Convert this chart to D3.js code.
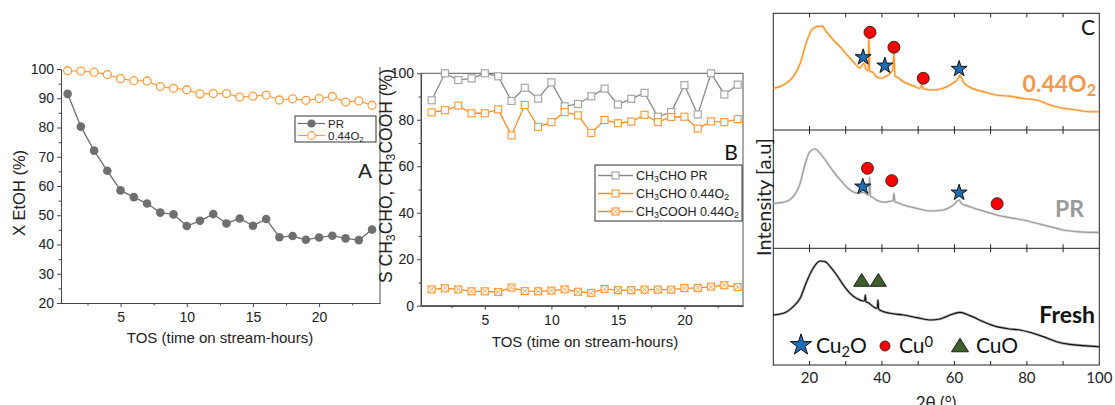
<!DOCTYPE html>
<html><head><meta charset="utf-8">
<script src="https://cdn.jsdelivr.net/npm/d3@7"></script>
<style>
body{margin:0;background:#fff;}
svg{display:block;}
</style></head><body>
<svg id="fig" width="1115" height="405"></svg>
<script>
// ---------- data ----------
const tos = [1,2,3,4,5,6,7,8,9,10,11,12,13,14,15,16,17,18,19,20,21,22,23,24];

// Panel A: ethanol conversion (%)
const convPR  = [91.5,80.3,72.1,65.2,58.5,56.2,54.0,50.9,50.3,46.3,48.1,50.4,47.2,48.9,46.4,48.7,42.5,42.9,41.6,42.4,43.0,42.1,41.5,45.1];
const convO2  = [99.4,99.3,98.9,98.1,96.7,96.0,95.9,94.0,93.4,92.9,91.5,91.6,91.6,90.4,90.7,91.1,89.4,89.8,89.3,89.9,90.6,88.7,89.1,87.6];

// Panel B: selectivities (%)
const selAcePR  = [88.4,100,97.1,97.8,100,98.7,88.1,93.8,89.1,96.1,85.8,86.8,90.1,93.4,86.6,89.0,91.6,81.3,83.3,94.9,82.3,100,90.9,95.1];
const selAceO2  = [83.2,84.1,86.1,82.8,82.8,84.5,73.3,86.4,76.9,79.0,83.3,81.9,74.3,79.9,78.5,79.2,82.1,79.0,81.2,81.3,76.2,79.3,79.0,80.3];
const selAcidO2 = [7.0,7.5,7.0,6.2,6.2,5.9,7.8,6.3,6.2,6.5,7.0,6.0,5.5,7.2,6.7,6.7,6.9,6.9,6.9,7.6,7.6,8.2,8.8,8.0];

const ticksA = [20,30,40,50,60,70,80,90,100];
const ticksB = [0,20,40,60,80,100];
const ticksTOS = [5,10,15,20];

// Panel C: XRD patterns, [2θ, intensity a.u.]
const xrdO2 = [[10,35.7],[12.8,38.6],[15.5,45.7],[17.4,57],[19.2,75.7],[20.6,85.7],[22.0,88.6],[23.4,89],[24.7,84],
  [26.6,77],[28.4,71.4],[30.7,63],[32.5,57],[33.9,53],[34.6,56],[35.1,57],[35.6,52],[36.2,51],[36.4,81],[36.6,50],
  [37.1,50],[38.5,45.7],[39.9,44.3],[40.8,45.7],[41.7,47],[42.6,50],[43.0,52],[43.3,66],[43.6,46],[44.0,45.7],
  [45.9,41.4],[48.7,37.7],[50.5,35.7],[51.0,38.6],[51.4,35.4],[54.2,34.3],[56.9,35.7],[59.2,39.4],[61.1,44.3],
  [61.5,47],[62.4,41.4],[64.3,36.6],[68.0,32.9],[71.6,30],[75.3,29],[79.0,27],[82.7,25.7],[86.4,21.4],[90.0,18.6],
  [93.7,17.1],[97.4,15.7],[100,15.7]];
const xrdPR = [[10,38],[12.8,38.9],[15.5,43.7],[17.4,54.9],[18.7,70.4],[20.1,81.7],[21.5,83.9],[22.9,80.3],[24.7,73.2],
  [26.6,64.8],[28.9,56.3],[31.2,49.3],[33.5,46.5],[34.8,47.5],[36.2,45],[36.4,45],[36.6,60],[36.8,44],[37.1,43.7],
  [38.5,40.8],[40.8,38.9],[42.7,40],[43.1,40],[43.3,46.5],[43.6,39],[43.9,38.9],[45.9,36.6],[49.6,33.8],[53.2,31.5],
  [56.9,32.4],[59.7,36.6],[61.3,40.8],[61.9,38],[64.3,35.2],[68.0,31.5],[71.6,28.2],[75.3,25.9],[79.0,23.9],
  [82.7,21.1],[86.4,18.3],[90.0,15.5],[93.7,14.1],[97.4,13.5],[100,13.5]];
const xrdFresh = [[10,42.9],[12.8,44.3],[15.5,50],[17.4,57.1],[19.2,71.4],[21.0,82.9],[22.9,89.1],[24.3,88.6],
  [25.7,84.3],[27.5,77.1],[29.3,68.6],[31.2,61.4],[33.0,57.1],[34.8,54.9],[35.2,55],[35.4,60],[35.6,54],[36.0,53.7],
  [37.6,50],[38.5,48.6],[38.7,49],[38.9,55.7],[39.1,48],[39.4,47.1],[42.2,44.3],[45.9,42.9],[49.6,40.6],[53.2,38.6],
  [56.0,39.4],[58.8,42.9],[61.5,45.1],[64.3,42.3],[68.0,37.1],[71.6,32.9],[75.3,30.9],[78.1,30],[80.8,28],[84.5,24.3],
  [88.2,20],[91.9,17.7],[95.6,16.6],[100,15.7]];

// phase markers [2θ, intensity]
const cuO2Cu2O = [[34.8,62.3],[40.8,55.1],[61.3,52.3]];
const cuO2Cu0  = [[36.7,83.7],[43.3,70.9],[51.4,44.3]];
const cuPRCu2O = [[34.7,52.1],[61.3,47.0]];
const cuPRCu0  = [[36.0,67.6],[42.7,57.2],[71.8,37.7]];
const cuFreshCuO = [[34.4,72.9],[39.0,72.9]];
const ticks2Theta = [20,40,60,80,100];

// ---------- drawing ----------
const svg = d3.select("#fig");
const ARIAL = "'Liberation Sans', Arial, sans-serif";
const CAL = "Lato, 'Open Sans', sans-serif";
const GREY = "#6f6f6f", ORANGE = "#ff9d3c", LGREY = "#a6a6a6";

function styleAxis(g, size){
  g.attr("font-family", ARIAL).attr("font-size", size);
  g.selectAll("path,line").attr("stroke","#444");
  g.selectAll("text").attr("fill","#222");
}

function sub(textSel, parts){
  // parts: array of [string, isSub]
  parts.forEach(([s, isSub]) => {
    textSel.append("tspan").text(s)
      .attr("baseline-shift", isSub ? "-25%" : null)
      .attr("font-size", isSub ? "70%" : null);
  });
}

// ===== Panel A =====
const xA = d3.scaleLinear().domain([0.5, 24.6]).range([61, 380]);
const yA = d3.scaleLinear().domain([20, 100]).range([303, 69]);
const gA = svg.append("g");

gA.append("g").attr("transform","translate(0,303)")
  .call(d3.axisBottom(xA).tickValues([2.5,7.5,12.5,17.5,22.5]).tickSize(2.5).tickSizeOuter(0).tickFormat(""))
  .call(g=>styleAxis(g,14));
gA.append("g").attr("transform","translate(0,303)")
  .call(d3.axisBottom(xA).tickValues(ticksTOS).tickSize(4).tickSizeOuter(0).tickPadding(5))
  .call(g=>styleAxis(g,14));
gA.append("g").attr("transform","translate(61,0)")
  .call(d3.axisLeft(yA).tickValues([25,35,45,55,65,75,85,95]).tickSize(2.5).tickSizeOuter(0).tickFormat(""))
  .call(g=>styleAxis(g,14));
gA.append("g").attr("transform","translate(61,0)")
  .call(d3.axisLeft(yA).tickValues(ticksA).tickSize(4).tickSizeOuter(0).tickPadding(3))
  .call(g=>styleAxis(g,14));
gA.append("line").attr("x1",380).attr("x2",380).attr("y1",yA(100)-2).attr("y2",303).attr("stroke","#555");

gA.append("text").attr("x",220).attr("y",343).attr("text-anchor","middle")
  .attr("font-family",ARIAL).attr("font-size",15).attr("fill","#222").text("TOS (time on stream-hours)");
gA.append("text").attr("transform","translate(25,193) rotate(-90)").attr("text-anchor","middle")
  .attr("font-family",ARIAL).attr("font-size",16.5).attr("fill","#222").text("X EtOH (%)");
gA.append("text").attr("x",365).attr("y",178).attr("text-anchor","middle")
  .attr("font-family",ARIAL).attr("font-size",21).attr("fill","#222").text("A");

const lineA = v => d3.line().x((d,i)=>xA(tos[i])).y(d=>yA(d))(v);
gA.append("path").attr("d",lineA(convPR)).attr("fill","none").attr("stroke",GREY).attr("stroke-width",1.3);
gA.selectAll(".pPR").data(convPR).enter().append("circle")
  .attr("cx",(d,i)=>xA(tos[i])).attr("cy",d=>yA(d)).attr("r",4.3).attr("fill",GREY);
gA.append("path").attr("d",lineA(convO2)).attr("fill","none").attr("stroke",ORANGE).attr("stroke-width",1.2);
gA.selectAll(".pO2").data(convO2).enter().append("circle")
  .attr("cx",(d,i)=>xA(tos[i])).attr("cy",d=>yA(d)).attr("r",4).attr("fill","#fff").attr("stroke",ORANGE).attr("stroke-width",1.3);

// legend A
const lgA = gA.append("g");
lgA.append("rect").attr("x",295).attr("y",116).attr("width",81).attr("height",26).attr("fill","#fff").attr("stroke","#333");
[["PR",123.5],["0.44O2",135.5]].forEach(([lab,y],k)=>{
  const c = k===0?GREY:ORANGE;
  lgA.append("line").attr("x1",298).attr("x2",325).attr("y1",y).attr("y2",y).attr("stroke",c).attr("stroke-width",1.2);
  lgA.append("circle").attr("cx",311.5).attr("cy",y).attr("r",k===0?4:3.8)
    .attr("fill",k===0?GREY:"#fff").attr("stroke",k===0?"none":ORANGE).attr("stroke-width",1.2);
  const t = lgA.append("text").attr("x",328).attr("y",y+4).attr("font-family",ARIAL).attr("font-size",11.5).attr("fill","#222");
  if(k===0) t.text(lab); else sub(t,[["0.44O",false],["2",true]]);
});

// ===== Panel B =====
const xB = d3.scaleLinear().domain([0.2, 24.4]).range([421, 743]);
const yB = d3.scaleLinear().domain([0, 100]).range([305.7, 73.3]);
const gB = svg.append("g");
gB.append("g").attr("transform","translate(0,305.7)")
  .call(d3.axisBottom(xB).tickValues([2.5,7.5,12.5,17.5,22.5]).tickSize(2.5).tickSizeOuter(0).tickFormat(""))
  .call(g=>styleAxis(g,14));
gB.append("g").attr("transform","translate(0,305.7)")
  .call(d3.axisBottom(xB).tickValues(ticksTOS).tickSize(4).tickSizeOuter(0).tickPadding(5))
  .call(g=>styleAxis(g,14));
gB.append("g").attr("transform","translate(421,0)")
  .call(d3.axisLeft(yB).tickValues([10,30,50,70,90]).tickSize(2.5).tickSizeOuter(0).tickFormat(""))
  .call(g=>styleAxis(g,14));
gB.append("g").attr("transform","translate(421,0)")
  .call(d3.axisLeft(yB).tickValues(ticksB).tickSize(4).tickSizeOuter(0).tickPadding(3))
  .call(g=>styleAxis(g,14));
gB.append("rect").attr("x",421).attr("y",73.3).attr("width",322).attr("height",232.4).attr("fill","none").attr("stroke","#555");

gB.append("text").attr("x",585).attr("y",347).attr("text-anchor","middle")
  .attr("font-family",ARIAL).attr("font-size",15).attr("fill","#222").text("TOS (time on stream-hours)");
{
  const t = gB.append("text").attr("transform","translate(392,176) rotate(-90)").attr("text-anchor","middle")
    .attr("font-family",ARIAL).attr("font-size",17.5).attr("fill","#222");
  sub(t,[["S CH",false],["3",true],["CHO, CH",false],["3",true],["COOH (%)",false]]);
}
gB.append("text").attr("x",731).attr("y",160).attr("text-anchor","middle")
  .attr("font-family",CAL).attr("font-size",21).attr("fill","#111").text("B");

function square(g, x, y, color, cross){
  const s = 7;
  g.append("rect").attr("x",x-s/2).attr("y",y-s/2).attr("width",s).attr("height",s)
    .attr("fill","#fff").attr("stroke",color).attr("stroke-width",1.2);
  if(cross){
    g.append("path").attr("d",`M${x-s/2},${y-s/2}L${x+s/2},${y+s/2}M${x+s/2},${y-s/2}L${x-s/2},${y+s/2}`)
      .attr("stroke",color).attr("stroke-width",0.9);
  }
}
const seriesB = [[selAcePR,LGREY,"#8a8a8a",false],[selAceO2,ORANGE,"#ff8c1f",false],[selAcidO2,ORANGE,"#ff8c1f",true]];
seriesB.forEach(([vals,mc,lc,cross])=>{
  gB.append("path").attr("d",d3.line().x((d,i)=>xB(tos[i])).y(d=>yB(d))(vals))
    .attr("fill","none").attr("stroke",lc).attr("stroke-width",1.3);
  vals.forEach((d,i)=>square(gB, xB(tos[i]), yB(d), mc, cross));
});

// legend B
const lgB = gB.append("g");
lgB.append("rect").attr("x",595).attr("y",165).attr("width",147).attr("height",56).attr("fill","#fff").attr("stroke","#333");
const legB = [
  [[["CH",false],["3",true],["CHO PR",false]], LGREY, "#8a8a8a", false, 175.5],
  [[["CH",false],["3",true],["CHO 0.44O",false],["2",true]], ORANGE, "#ff8c1f", false, 193.5],
  [[["CH",false],["3",true],["COOH 0.44O",false],["2",true]], ORANGE, "#ff8c1f", true, 211.5]
];
legB.forEach(([parts,mc,lc,cross,y])=>{
  lgB.append("line").attr("x1",598).attr("x2",633).attr("y1",y).attr("y2",y).attr("stroke",lc).attr("stroke-width",1.3);
  square(lgB, 615.5, y, mc, cross);
  const t = lgB.append("text").attr("x",636).attr("y",y+4.5).attr("font-family",ARIAL).attr("font-size",12.5).attr("fill","#222");
  sub(t, parts);
});

// ===== Panel C =====
const xC = d3.scaleLinear().domain([10, 100]).range([773.3, 1099.3]);
const bands = [[13.3,130],[130,248.3],[248.3,365]];
const yC = bands.map(([t,b]) => d3.scaleLinear().domain([0,100]).range([b,t]));
const gC = svg.append("g");

// inward ticks on every horizontal border
const tickAt = [20,30,40,50,60,70,80,90];
[13.3,130,248.3,365].forEach((yy,k)=>{
  tickAt.forEach(v=>{
    if(k>0) gC.append("line").attr("x1",xC(v)).attr("x2",xC(v)).attr("y1",yy).attr("y2",yy-4).attr("stroke","#222");
    if(k<3) gC.append("line").attr("x1",xC(v)).attr("x2",xC(v)).attr("y1",yy).attr("y2",yy+4).attr("stroke","#222");
  });
});
gC.append("rect").attr("x",773.3).attr("y",13.3).attr("width",326).attr("height",351.7).attr("fill","none").attr("stroke","#222");
gC.append("line").attr("x1",773.3).attr("x2",1099.3).attr("y1",130).attr("y2",130).attr("stroke","#222");
gC.append("line").attr("x1",773.3).attr("x2",1099.3).attr("y1",248.3).attr("y2",248.3).attr("stroke","#222");

gC.selectAll(".xl").data(ticks2Theta).enter().append("text")
  .attr("x",d=>xC(d)).attr("y",383).attr("text-anchor","middle")
  .attr("font-family",CAL).attr("font-size",15).attr("fill","#222").text(d=>d);
gC.append("text").attr("x",936).attr("y",409).attr("text-anchor","middle")
  .attr("font-family",CAL).attr("font-size",17).attr("fill","#222").text("2θ (°)");
gC.append("text").attr("transform","translate(771,197) rotate(-90)").attr("text-anchor","middle")
  .attr("font-family",CAL).attr("font-size",20).attr("fill","#222").text("Intensity [a.u]");

// each diffractogram: a faint wide stroke under a thin core line
const patterns = [[xrdO2,"#ff8f1a",0],[xrdPR,"#9a9a9a",1],[xrdFresh,"#111",2]];
patterns.forEach(([data,col,k])=>{
  const d = d3.line().curve(d3.curveMonotoneX).x(p=>xC(p[0])).y(p=>yC[k](p[1]))(data);
  gC.append("path").attr("d",d).attr("fill","none").attr("stroke",col).attr("stroke-width",2.6).attr("stroke-opacity",0.35);
  gC.append("path").attr("d",d).attr("fill","none").attr("stroke",col).attr("stroke-width",1.1);
});

const starPath = s => d3.symbol().type(d3.symbolStar).size(s)();
function star(x,y,s){ gC.append("path").attr("d",starPath(s)).attr("transform",`translate(${x},${y})`)
  .attr("fill","#1f6db4").attr("stroke","#111").attr("stroke-width",1); }
function dot(x,y,r){ gC.append("circle").attr("cx",x).attr("cy",y).attr("r",r)
  .attr("fill","#ff0000").attr("stroke","#222").attr("stroke-width",0.9); }
function tri(x,y,w){ const h=w*0.8; gC.append("path").attr("d",`M${x-w/2},${y+h/2}L${x},${y-h/2}L${x+w/2},${y+h/2}Z`)
  .attr("fill","#3f5f2a").attr("stroke","#111").attr("stroke-width",0.9); }

cuO2Cu2O.forEach(d=>star(xC(d[0]),yC[0](d[1]),80));
cuO2Cu0.forEach(d=>dot(xC(d[0]),yC[0](d[1]),6));
cuPRCu2O.forEach(d=>star(xC(d[0]),yC[1](d[1]),80));
cuPRCu0.forEach(d=>dot(xC(d[0]),yC[1](d[1]),6));
cuFreshCuO.forEach(d=>tri(xC(d[0]),yC[2](d[1]),16));

gC.append("text").attr("x",1095).attr("y",35).attr("text-anchor","end")
  .attr("font-family",CAL).attr("font-size",21).attr("fill","#111").text("C");
{
  const t = gC.append("text").attr("x",1096).attr("y",92).attr("text-anchor","end")
    .attr("font-family",CAL).attr("font-weight","bold").attr("font-size",23).attr("fill","#f0994f");
  sub(t,[["0.44O",false],["2",true]]);
}
gC.append("text").attr("x",1084).attr("y",217).attr("text-anchor","end")
  .attr("font-family",CAL).attr("font-weight","bold").attr("font-size",23).attr("fill","#9a9a9a").text("PR");
gC.append("text").attr("x",1095).attr("y",323).attr("text-anchor","end")
  .attr("font-family",CAL).attr("font-weight","bold").attr("font-size",23).attr("fill","#111").text("Fresh");

// phase legend
star(801,345,140);
{
  const t = gC.append("text").attr("x",816).attr("y",353).attr("font-family",CAL).attr("font-size",21).attr("fill","#111");
  sub(t,[["Cu",false],["2",true],["O",false]]);
}
dot(885,346,5);
{
  const t = gC.append("text").attr("x",899).attr("y",353).attr("font-family",CAL).attr("font-size",21).attr("fill","#111");
  t.append("tspan").text("Cu");
  t.append("tspan").text("0").attr("baseline-shift","40%").attr("font-size","70%");
}
tri(960,345,17);
gC.append("text").attr("x",976).attr("y",353).attr("font-family",CAL).attr("font-size",21).attr("fill","#111").text("CuO");
</script>
</body></html>
